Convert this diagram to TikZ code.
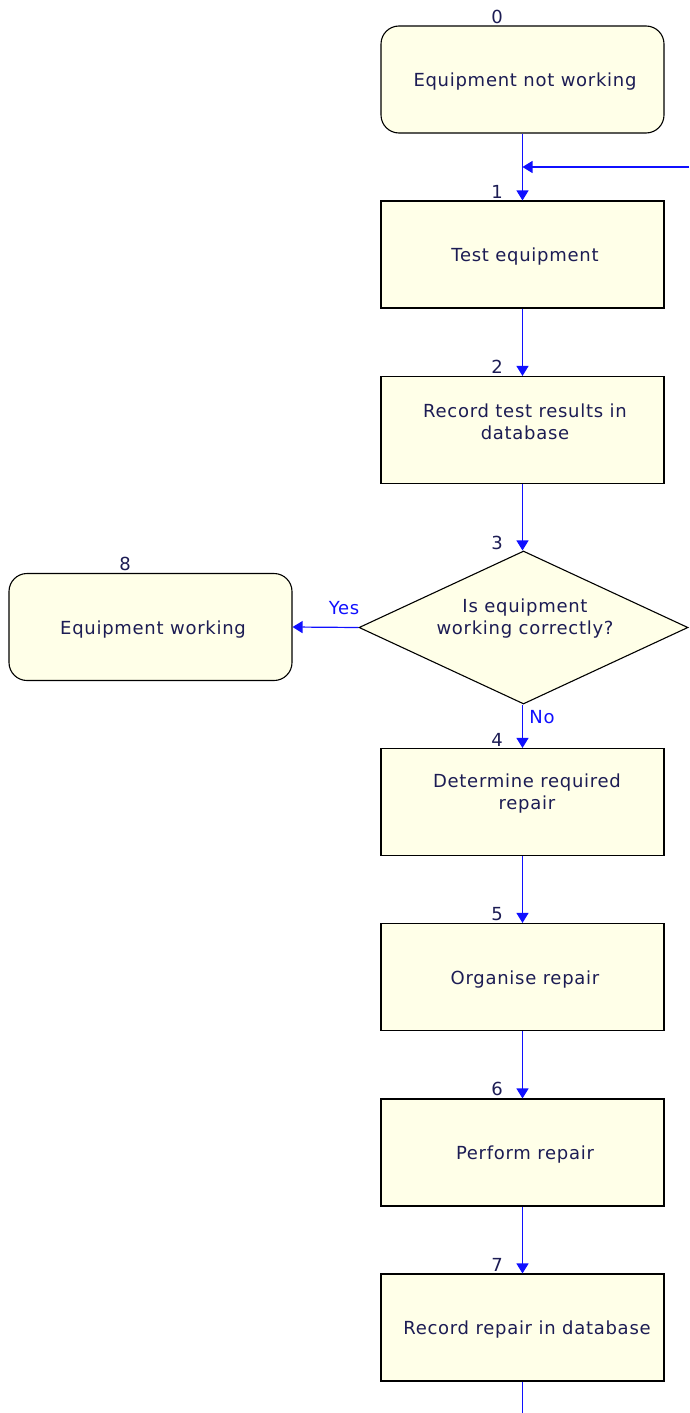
\documentclass[tikz,border=0pt]{standalone}
\usepackage{fontspec}
\setmainfont[LetterSpace=4]{DejaVu Sans}
\usetikzlibrary{arrows.meta,shapes.geometric}
\definecolor{boxfill}{HTML}{FFFFE8}
\definecolor{txt}{HTML}{1C1C54}
\definecolor{lnk}{HTML}{1010FF}
\newcommand{\dfont}{\fontsize{18}{22}\selectfont}
\tikzset{
  base/.style={draw=black, line width=1.1pt, fill=boxfill, text=txt, font=\dfont, align=center, inner sep=0pt},
  procbox/.style={base, rectangle, minimum width=283pt, minimum height=107pt, text width=250pt},
  termbox/.style={base, rectangle, rounded corners=18pt, minimum width=283pt, minimum height=107pt, text width=250pt},
  decbox/.style={base, diamond, minimum width=329pt, minimum height=153pt, aspect=2.15},
  boxtext/.style={text=txt, font=\dfont, align=center, inner sep=0pt},
  numlab/.style={text=txt, font=\dfont, inner sep=0pt},
  flow/.style={draw=lnk, line width=1.2pt, -{Triangle[width=12pt,length=10pt]}},
  plain/.style={draw=lnk, line width=1.2pt},
  branch/.style={text=lnk, font=\dfont, inner sep=0pt}
}
\begin{document}
\begin{tikzpicture}[x=1pt,y=-1pt]
\useasboundingbox (0,0) rectangle (689,1413);
\node[termbox] (s0) at (522.5,79.5) {};
\node[boxtext] (t0) at (525,82) {Equipment not working};
\node[procbox] (s1) at (522.5,254.5) {};
\node[boxtext] (t1) at (525,257) {Test equipment};
\node[procbox] (s2) at (522.5,430) {};
\node[boxtext] (t2) at (525,422) {Record test results in\\database};
\node[decbox] (s3) at (523.5,627.5) {};
\node[boxtext] (t3) at (525,619) {Is equipment\\working correctly?};
\node[termbox] (s8) at (150.5,627) {};
\node[boxtext] (t8) at (153,630) {Equipment working};
\node[procbox] (s4) at (522.5,802) {};
\node[boxtext] (t4) at (527,794) {Determine required\\repair};
\node[procbox] (s5) at (522.5,977) {};
\node[boxtext] (t5) at (525,980) {Organise repair};
\node[procbox] (s6) at (522.5,1152.5) {};
\node[boxtext] (t6) at (525,1155) {Perform repair};
\node[procbox] (s7) at (522.5,1327.5) {};
\node[boxtext] (t7) at (527,1330) {Record repair in database};

\node[numlab] (n0) at (497,17) {0};
\node[numlab] (n1) at (497,192) {1};
\node[numlab] (n2) at (497,367) {2};
\node[numlab] (n3) at (497,543) {3};
\node[numlab] (n8) at (125,564) {8};
\node[numlab] (n4) at (497,740) {4};
\node[numlab] (n5) at (497,914) {5};
\node[numlab] (n6) at (497,1089) {6};
\node[numlab] (n7) at (497,1265) {7};

\coordinate (join) at (522.5,167);
\coordinate (loopin) at (689,167);
\coordinate (bottom) at (522.5,1413);

\draw[flow] (s0.south) -- (s1.north);
\draw[flow] (loopin) -- (join);
\draw[flow] (s1.south) -- (s2.north);
\draw[flow] (s2.south) -- (s2.south |- s3.north);
\draw[flow] (s3.west) -- (s8.east);
\draw[flow] (s3.south -| s4.north) -- (s4.north);
\draw[flow] (s4.south) -- (s5.north);
\draw[flow] (s5.south) -- (s6.north);
\draw[flow] (s6.south) -- (s7.north);
\draw[plain] (s7.south) -- (bottom);

\node[branch] (yes) at (344,608) {Yes};
\node[branch] (no) at (542,717) {No};
\end{tikzpicture}
\end{document}
